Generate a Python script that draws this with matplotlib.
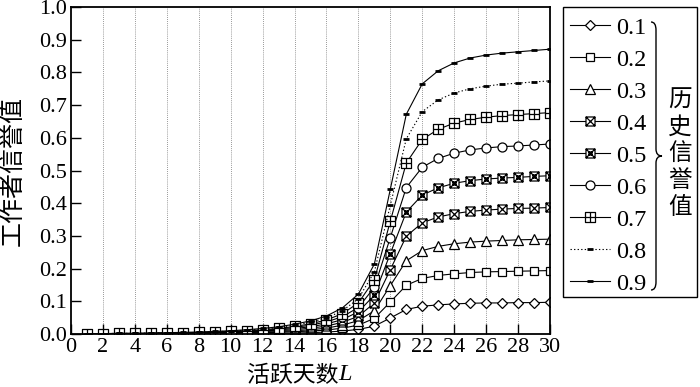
import matplotlib
matplotlib.use("Agg")
import matplotlib.pyplot as plt
from matplotlib.path import Path
from matplotlib.patches import PathPatch, Rectangle

plt.rcParams["font.family"] = ["Liberation Serif", "Noto Sans CJK SC"]

days = list(range(1, 31))
labels = ["0.1", "0.2", "0.3", "0.4", "0.5", "0.6", "0.7", "0.8", "0.9"]

h01 = [0.000, 0.000, 0.000, 0.000, 0.000, 0.000, 0.001, 0.001, 0.001, 0.001,
       0.001, 0.002, 0.002, 0.003, 0.004, 0.006, 0.009, 0.014, 0.024, 0.049,
       0.075, 0.085, 0.089, 0.092, 0.094, 0.095, 0.095, 0.096, 0.096, 0.097]
h02 = [0.000, 0.000, 0.000, 0.000, 0.001, 0.001, 0.001, 0.001, 0.002, 0.002,
       0.003, 0.004, 0.005, 0.007, 0.009, 0.012, 0.018, 0.027, 0.048, 0.098,
       0.149, 0.170, 0.179, 0.184, 0.188, 0.190, 0.191, 0.192, 0.193, 0.194]
h03 = [0.000, 0.000, 0.001, 0.001, 0.001, 0.001, 0.002, 0.002, 0.003, 0.003,
       0.004, 0.006, 0.007, 0.010, 0.013, 0.018, 0.027, 0.041, 0.071, 0.148,
       0.224, 0.255, 0.268, 0.276, 0.281, 0.284, 0.286, 0.288, 0.289, 0.290]
h04 = [0.000, 0.000, 0.001, 0.001, 0.001, 0.002, 0.002, 0.003, 0.004, 0.004,
       0.006, 0.008, 0.010, 0.013, 0.018, 0.024, 0.036, 0.054, 0.095, 0.197,
       0.299, 0.340, 0.358, 0.368, 0.375, 0.379, 0.382, 0.384, 0.385, 0.387]
h05 = [0.001, 0.001, 0.001, 0.001, 0.002, 0.002, 0.003, 0.003, 0.004, 0.006,
       0.007, 0.009, 0.012, 0.017, 0.022, 0.031, 0.044, 0.068, 0.119, 0.246,
       0.373, 0.425, 0.447, 0.461, 0.469, 0.474, 0.477, 0.479, 0.482, 0.484]
h06 = [0.001, 0.001, 0.001, 0.001, 0.002, 0.003, 0.003, 0.004, 0.005, 0.007,
       0.009, 0.011, 0.015, 0.020, 0.027, 0.037, 0.053, 0.081, 0.143, 0.295,
       0.448, 0.510, 0.537, 0.553, 0.563, 0.569, 0.573, 0.575, 0.578, 0.581]
h07 = [0.001, 0.001, 0.002, 0.002, 0.002, 0.003, 0.004, 0.005, 0.006, 0.008,
       0.010, 0.013, 0.017, 0.023, 0.031, 0.043, 0.062, 0.095, 0.166, 0.345,
       0.523, 0.595, 0.626, 0.645, 0.656, 0.663, 0.668, 0.671, 0.674, 0.677]
h08 = [0.001, 0.001, 0.002, 0.002, 0.003, 0.004, 0.004, 0.005, 0.007, 0.009,
       0.012, 0.015, 0.020, 0.027, 0.036, 0.049, 0.071, 0.108, 0.190, 0.394,
       0.597, 0.680, 0.716, 0.737, 0.750, 0.758, 0.764, 0.767, 0.771, 0.774]
h09 = [0.001, 0.001, 0.002, 0.002, 0.003, 0.004, 0.005, 0.006, 0.008, 0.010,
       0.013, 0.017, 0.022, 0.030, 0.040, 0.055, 0.080, 0.122, 0.214, 0.443,
       0.672, 0.765, 0.805, 0.829, 0.844, 0.853, 0.859, 0.863, 0.867, 0.871]

series = [h01, h02, h03, h04, h05, h06, h07, h08, h09]


def boxed(extra):
    # square outline plus extra open strokes inside
    verts = [(-1, -1), (1, -1), (1, 1), (-1, 1), (-1, -1)]
    codes = [Path.MOVETO, Path.LINETO, Path.LINETO, Path.LINETO, Path.CLOSEPOLY]
    for a, b in extra:
        verts += [a, b]
        codes += [Path.MOVETO, Path.LINETO]
    return Path(verts, codes)


box_x = boxed([((-1, -1), (1, 1)), ((-1, 1), (1, -1))])
box_xc = boxed([((-1, -1), (1, 1)), ((-1, 1), (1, -1)),
                ((-0.35, -0.35), (0.35, -0.35)), ((0.35, -0.35), (0.35, 0.35)),
                ((0.35, 0.35), (-0.35, 0.35)), ((-0.35, 0.35), (-0.35, -0.35))])
box_plus = boxed([((0, -1), (0, 1)), ((-1, 0), (1, 0))])

styles = [
    dict(marker="D", ms=5, ls="-"),
    dict(marker="s", ms=6, ls="-"),
    dict(marker="^", ms=6.5, ls="-"),
    dict(marker=box_x, ms=6.5, ls="-"),
    dict(marker=box_xc, ms=6.5, ls="-"),
    dict(marker="o", ms=6.5, ls="-"),
    dict(marker=box_plus, ms=6.5, ls="-"),
    dict(marker="_", ms=5, ls=(0, (1.2, 2)), mew=2),
    dict(marker="_", ms=5, ls="-", mew=2),
]

fig = plt.figure(figsize=(7, 3.87), dpi=100)
ax = fig.add_axes([71 / 700, 1 - 334 / 387, 479 / 700, 327 / 387])

lines = []
for vals, lab, st in zip(series, labels, styles):
    st = dict(st)
    mew = st.pop("mew", 0.9)
    ln, = ax.plot(days, vals, color="black", lw=0.8, mfc="white", mec="black",
                  mew=mew, label=lab, **st)
    lines.append(ln)

ax.set_xlim(0, 30)
ax.set_ylim(0, 1.0)
ax.set_xticks(range(0, 31, 2))
ax.set_yticks([i / 10 for i in range(11)])
ax.set_yticklabels([f"{i / 10:.1f}" for i in range(11)])
ax.tick_params(direction="in", length=7, width=1, labelsize=16, pad=3,
               top=False, right=False)
for s in ax.spines.values():
    s.set_linewidth(1.3)
for x in range(2, 30, 2):
    ax.axvline(x, color="#777777", lw=0.6, ls=(0, (1, 1.5)), zorder=0)

# x label: Chinese text plus italic L
fig.text(338 / 700, 1 - 375 / 387, "活跃天数", fontsize=16.5, ha="right",
         va="center", family="Noto Sans CJK SC")
fig.text(338 / 700, 1 - 374 / 387, "L", fontsize=17.5, ha="left",
         va="center", family="Liberation Serif", style="italic")
fig.text(12.5 / 700, 1 - 171 / 387, "工作者信誉值", fontsize=18, rotation=90,
         ha="center", va="center", family="Noto Sans CJK SC")

leg = fig.legend(handles=lines, loc="upper left",
                 bbox_to_anchor=(565 / 700, 1 - 12 / 387), frameon=False,
                 fontsize=17.5, handlelength=1.65, handletextpad=0.25,
                 labelspacing=0.41, borderpad=0.2, borderaxespad=0)

fig.add_artist(Rectangle((563 / 700, 1 - 297 / 387), 134 / 700, 290 / 387,
                         transform=fig.transFigure, fill=False, lw=1,
                         ec="black"))

# curly brace grouping the legend entries
def fpt(px, py):
    return (px / 700, 1 - py / 387)


bx0, bx1, bx2 = 651, 656, 662
by0, by1, bym = 22, 290, 156
bverts = [fpt(bx0, by0), fpt(bx1, by0), fpt(bx1, by0 + 8),
          fpt(bx1, bym - 7), fpt(bx1, bym), fpt(bx2, bym),
          fpt(bx1, bym), fpt(bx1, bym + 7),
          fpt(bx1, by1 - 8), fpt(bx1, by1), fpt(bx0, by1)]
bcodes = [Path.MOVETO, Path.CURVE3, Path.CURVE3,
          Path.LINETO, Path.CURVE3, Path.CURVE3,
          Path.CURVE3, Path.CURVE3,
          Path.LINETO, Path.CURVE3, Path.CURVE3]
fig.add_artist(PathPatch(Path(bverts, bcodes), transform=fig.transFigure,
                         fill=False, lw=1, ec="black"))

for i, ch in enumerate("历史信誉值"):
    fig.text(680 / 700, 1 - (100 + 26.8 * i) / 387, ch, fontsize=17,
             ha="center", va="center", family="Noto Sans CJK SC")

fig.savefig("out.png", dpi=100)
